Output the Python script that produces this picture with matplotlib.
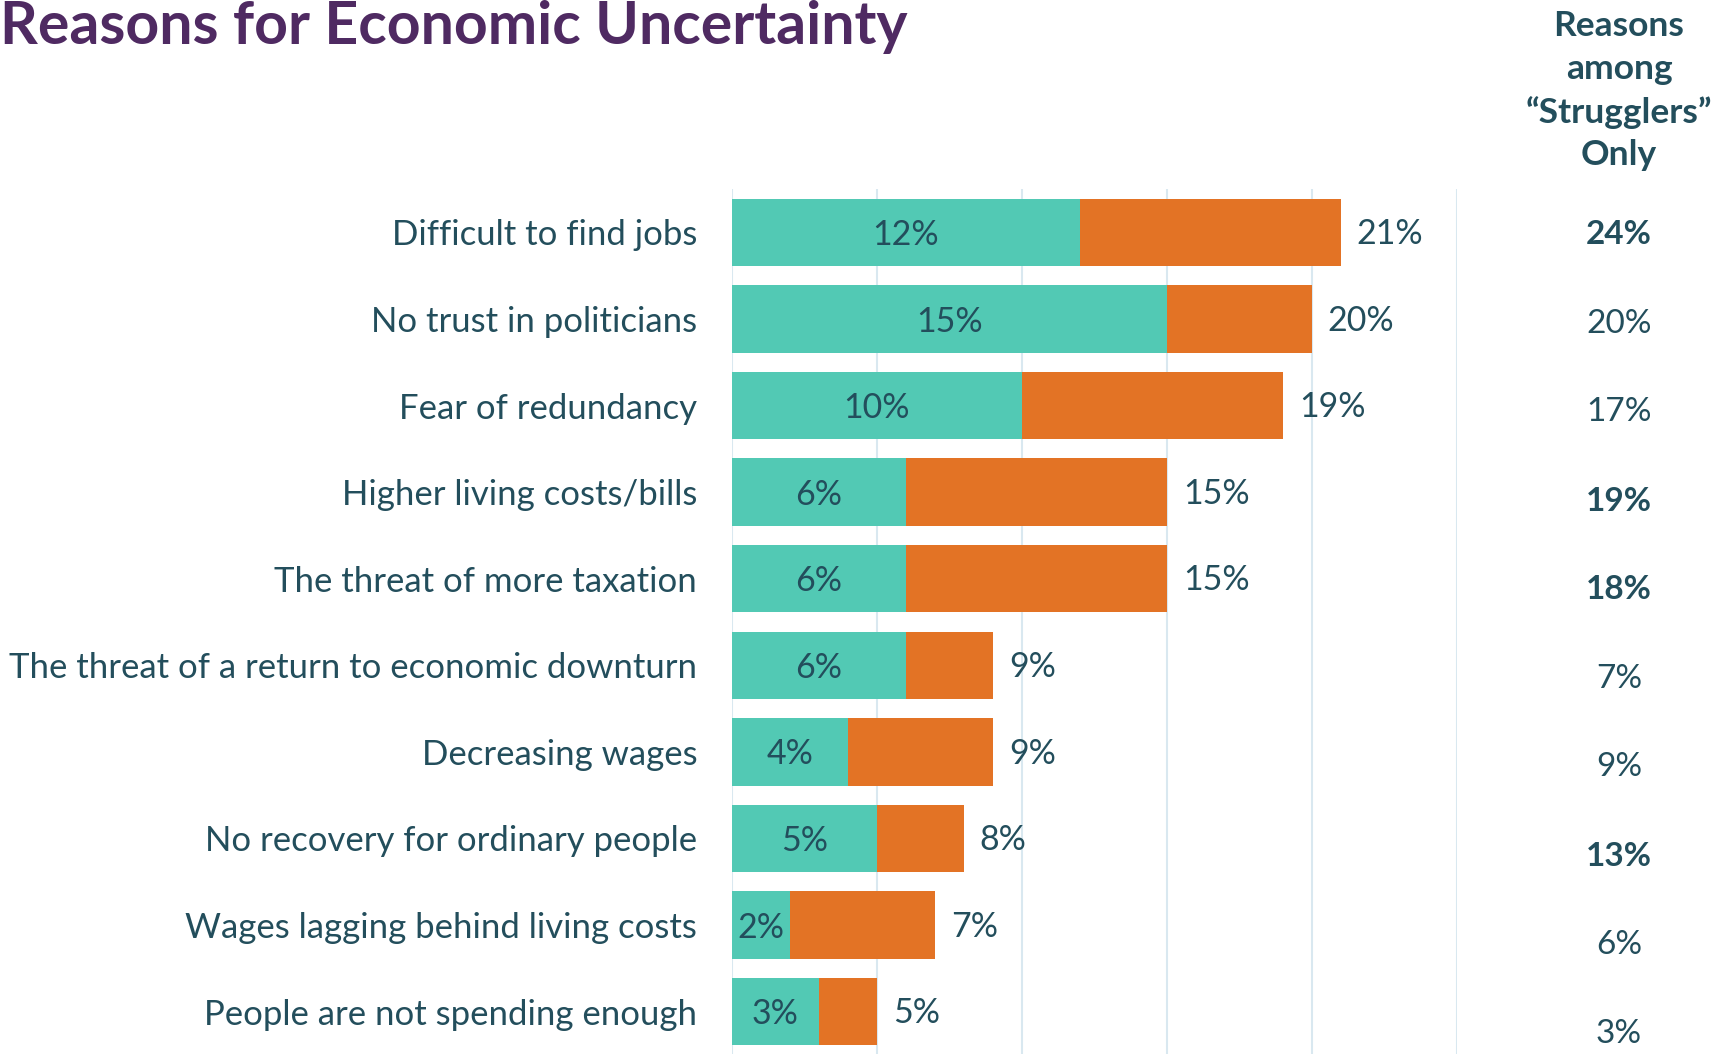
import matplotlib.pyplot as plt
from matplotlib.transforms import blended_transform_factory

# survey results, share of respondents (%)
reasons = [
    "Difficult to find jobs",
    "No trust in politicians",
    "Fear of redundancy",
    "Higher living costs/bills",
    "The threat of more taxation",
    "The threat of a return to economic downturn",
    "Decreasing wages",
    "No recovery for ordinary people",
    "Wages lagging behind living costs",
    "People are not spending enough",
]
main_reason = [12, 15, 10, 6, 6, 6, 4, 5, 2, 3]
any_reason = [21, 20, 19, 15, 15, 9, 9, 8, 7, 5]
strugglers = [24, 20, 17, 19, 18, 7, 9, 13, 6, 3]
strugglers_bold = [True, False, False, True, True, False, False, True, False, False]

TEAL = "#52C9B4"
ORANGE = "#E37325"
TEXT = "#234E5C"
PURPLE = "#4F2A62"
GRID = "#D9E8F0"

plt.rcParams['font.family'] = ['Lato', 'DejaVu Sans']

fig = plt.figure(figsize=(17.27, 10.54), dpi=100)
ax = fig.add_axes([0.4238, 0.0, 0.4198, 0.8206])

ypos = list(range(len(reasons)))
rest = [t - m for t, m in zip(any_reason, main_reason)]
ax.barh(ypos, main_reason, height=0.78, color=TEAL, zorder=2)
ax.barh(ypos, rest, left=main_reason, height=0.78, color=ORANGE, zorder=2)

for y, m, t in zip(ypos, main_reason, any_reason):
    ax.text(m / 2, y + 0.03, f"{m}%", ha="center", va="center", fontsize=24.5, color=TEXT)
    ax.text(t + 0.55, y + 0.02, f"{t}%", ha="left", va="center", fontsize=24.5, color=TEXT)

ax.set_xlim(0, 25)
ax.set_ylim(9.49, -0.5)
ax.set_xticks([0, 5, 10, 15, 20, 25])
ax.grid(axis="x", color=GRID, linewidth=1.5, zorder=0)
ax.set_yticks(ypos)
ax.set_yticklabels(reasons, fontsize=25, color=TEXT)
ax.tick_params(axis="y", length=0, pad=25)
ax.tick_params(axis="x", length=0, labelbottom=False)
for s in ax.spines.values():
    s.set_visible(False)

# strugglers column on the right
col = blended_transform_factory(fig.transFigure, ax.transData)
for i, (v, b) in enumerate(zip(strugglers, strugglers_bold)):
    ax.text(0.9375, i * 1.025 + 0.03, f"{v}%", transform=col, ha="center", va="center",
            fontsize=24, color=TEXT, fontweight="bold" if b else "normal", clip_on=False)

fig.text(0.9375, 0.914, "Reasons\namong\n\u201cStrugglers\u201d\nOnly", ha="center", va="center",
         fontsize=25.5, color=TEXT, fontweight="bold", linespacing=1.41)

fig.text(0.0, 0.958, "Reasons for Economic Uncertainty", ha="left", va="baseline",
         fontsize=42.5, color=PURPLE, fontweight="bold")

fig.savefig("out.png", dpi=100)
